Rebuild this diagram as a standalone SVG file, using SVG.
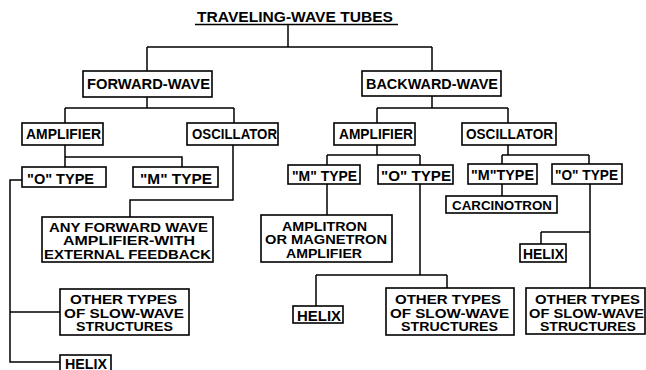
<svg xmlns="http://www.w3.org/2000/svg" width="646" height="370" viewBox="0 0 646 370">
<style>
.bx{fill:#fff;stroke:#000;stroke-width:1.6}
.ln{fill:none;stroke:#000;stroke-width:1.5}
text{font-family:"Liberation Sans",Arial,sans-serif;font-weight:bold;font-size:14px;fill:#000}
.lg{font-size:15px}
.sm{font-size:13px}
.ml{font-size:12px}
</style>
<rect width="646" height="370" fill="#fff"/>
<g id="connectors" class="ln">
<path d="M195,24.5H398"/>
<path d="M288,24.5V47M147,47H432M147,47V71M432,47V71"/>
<path d="M147,97V108M65,108H234M65,108V123M234,108V123"/>
<path d="M432,96V108M377,108H508M377,108V123M508,108V123"/>
<path d="M65,145V167M65,157H182V167"/>
<path d="M233,145V200H130V217"/>
<path d="M22,180H10V362H60M10,312H60"/>
<path d="M377,145V155M327,155H420M327,155V165M420,155V165"/>
<path d="M327,184V215"/>
<path d="M420,184V275M316,275H447M316,275V306M447,275V288"/>
<path d="M508,145V155M502,155H589M502,155V164M589,155V164"/>
<path d="M502,184V196"/>
<path d="M590,184V288M541,232H590M541,232V244"/>
</g>
<g id="title"><text x="197" y="21.5" font-size="13.5" textLength="196" lengthAdjust="spacingAndGlyphs">TRAVELING-WAVE TUBES</text></g>
<g id="forward-wave"><rect class="bx" x="83" y="71" width="129" height="26"/><text class="lg" x="87" y="89" textLength="123" lengthAdjust="spacingAndGlyphs">FORWARD-WAVE</text></g>
<g id="backward-wave"><rect class="bx" x="362" y="71" width="139" height="25"/><text class="lg" x="366" y="89" textLength="132" lengthAdjust="spacingAndGlyphs">BACKWARD-WAVE</text></g>
<g id="fw-amplifier"><rect class="bx" x="22" y="123" width="81" height="22"/><text x="26" y="139" textLength="75" lengthAdjust="spacingAndGlyphs">AMPLIFIER</text></g>
<g id="fw-oscillator"><rect class="bx" x="187" y="123" width="91" height="22"/><text x="192" y="139" textLength="85" lengthAdjust="spacingAndGlyphs">OSCILLATOR</text></g>
<g id="bw-amplifier"><rect class="bx" x="334" y="123" width="81" height="22"/><text x="339" y="139" textLength="74" lengthAdjust="spacingAndGlyphs">AMPLIFIER</text></g>
<g id="bw-oscillator"><rect class="bx" x="462" y="123" width="94" height="22"/><text x="466" y="139" textLength="87" lengthAdjust="spacingAndGlyphs">OSCILLATOR</text></g>
<g id="fw-o-type"><rect class="bx" x="22" y="167" width="84" height="20"/><text x="27" y="184" textLength="67" lengthAdjust="spacingAndGlyphs">&quot;O&quot; TYPE</text></g>
<g id="fw-m-type"><rect class="bx" x="133" y="167" width="85" height="20"/><text x="140" y="184" textLength="72" lengthAdjust="spacingAndGlyphs">&quot;M&quot; TYPE</text></g>
<g id="any-forward"><rect class="bx" x="42" y="217" width="171" height="45"/>
<text class="ml"><tspan x="49" y="231.5" textLength="159" lengthAdjust="spacingAndGlyphs">ANY FORWARD WAVE</tspan><tspan x="63" y="245" textLength="132" lengthAdjust="spacingAndGlyphs">AMPLIFIER-WITH</tspan><tspan x="44" y="258.5" textLength="167" lengthAdjust="spacingAndGlyphs">EXTERNAL FEEDBACK</tspan></text></g>
<g id="fw-other"><rect class="bx" x="60" y="289" width="129" height="46"/>
<text class="ml"><tspan x="70" y="304" textLength="107" lengthAdjust="spacingAndGlyphs">OTHER TYPES</tspan><tspan x="64" y="317.5" textLength="120" lengthAdjust="spacingAndGlyphs">OF SLOW-WAVE</tspan><tspan x="76" y="331" textLength="97" lengthAdjust="spacingAndGlyphs">STRUCTURES</tspan></text></g>
<g id="fw-helix"><rect class="bx" x="60" y="355" width="51" height="18"/><text x="65" y="368.5" font-size="13.5" textLength="42" lengthAdjust="spacingAndGlyphs">HELIX</text></g>
<g id="bw-m-type"><rect class="bx" x="288" y="165" width="72" height="19"/><text x="292" y="181" textLength="65" lengthAdjust="spacingAndGlyphs">&quot;M&quot; TYPE</text></g>
<g id="bw-o-type"><rect class="bx" x="378" y="165" width="75" height="19"/><text x="381" y="181" textLength="70" lengthAdjust="spacingAndGlyphs">&quot;O&quot; TYPE</text></g>
<g id="amplitron"><rect class="bx" x="261" y="215" width="131" height="47"/>
<text class="ml"><tspan x="282" y="230.5" textLength="85" lengthAdjust="spacingAndGlyphs">AMPLITRON</tspan><tspan x="265" y="244" textLength="122" lengthAdjust="spacingAndGlyphs">OR MAGNETRON</tspan><tspan x="286" y="257.5" textLength="76" lengthAdjust="spacingAndGlyphs">AMPLIFIER</tspan></text></g>
<g id="bw-helix"><rect class="bx" x="293" y="306" width="50" height="17"/><text x="297" y="321" textLength="44" lengthAdjust="spacingAndGlyphs">HELIX</text></g>
<g id="bw-other"><rect class="bx" x="386" y="288" width="128" height="47"/>
<text class="ml"><tspan x="395" y="304" textLength="106" lengthAdjust="spacingAndGlyphs">OTHER TYPES</tspan><tspan x="390" y="317.5" textLength="119" lengthAdjust="spacingAndGlyphs">OF SLOW-WAVE</tspan><tspan x="401" y="331" textLength="97" lengthAdjust="spacingAndGlyphs">STRUCTURES</tspan></text></g>
<g id="osc-m-type"><rect class="bx" x="468" y="164" width="69" height="20"/><text x="471" y="180" textLength="63" lengthAdjust="spacingAndGlyphs">&quot;M&quot;TYPE</text></g>
<g id="osc-o-type"><rect class="bx" x="552" y="164" width="70" height="20"/><text x="555" y="180" textLength="63" lengthAdjust="spacingAndGlyphs">&quot;O&quot; TYPE</text></g>
<g id="carcinotron"><rect class="bx" x="446" y="196" width="111" height="17"/><text class="sm" x="452" y="210" textLength="100" lengthAdjust="spacingAndGlyphs">CARCINOTRON</text></g>
<g id="osc-helix"><rect class="bx" x="520" y="244" width="46" height="18"/><text x="523" y="259" textLength="41" lengthAdjust="spacingAndGlyphs">HELIX</text></g>
<g id="osc-other"><rect class="bx" x="526" y="288" width="119" height="46"/>
<text class="ml"><tspan x="535" y="304" textLength="105" lengthAdjust="spacingAndGlyphs">OTHER TYPES</tspan><tspan x="529" y="317.5" textLength="115" lengthAdjust="spacingAndGlyphs">OF SLOW-WAVE</tspan><tspan x="540" y="331" textLength="96" lengthAdjust="spacingAndGlyphs">STRUCTURES</tspan></text></g>
</svg>
